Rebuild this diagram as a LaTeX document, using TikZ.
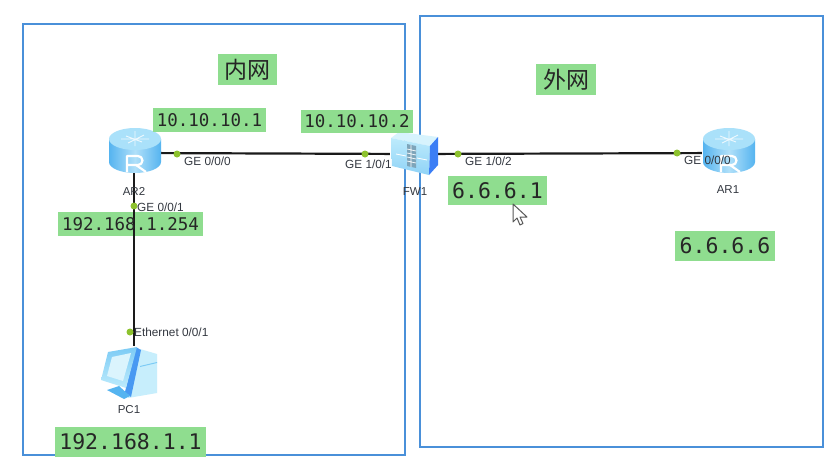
\documentclass[tikz,border=0pt]{standalone}
\usepackage{fontspec}
\setmainfont{Liberation Sans}
\newfontfamily\ipfont{DejaVu Sans Mono}
\newfontfamily\cjkfont{Noto Sans CJK SC}
\definecolor{ipgreen}{HTML}{8FDD8F}
\definecolor{zoneblue}{HTML}{4A90D9}
\definecolor{dotgreen}{HTML}{8DC22E}
\definecolor{linkblack}{HTML}{1A1A1A}
\definecolor{labelgrey}{HTML}{333840}
\definecolor{rlight}{HTML}{BDEBFC}
\definecolor{rmid}{HTML}{7CCBF5}
\definecolor{rdark}{HTML}{55B4F0}
\tikzset{
  zone/.style={draw=zoneblue,line width=1.1pt,fill=none},
  ipbox/.style={fill=ipgreen,inner sep=0pt,anchor=center,text=black!85},
  link/.style={draw=linkblack,line width=2.2pt},
  portdot/.style={circle,fill=dotgreen,inner sep=0pt,minimum size=7pt},
  portlabel/.style={font=\fontsize{11.8}{12}\selectfont,text=labelgrey,inner sep=0pt},
  devlabel/.style={font=\fontsize{11.5}{12}\selectfont,text=labelgrey,inner sep=0pt},
  devspot/.style={inner sep=0pt,draw=none},
}
\newcommand{\ipnode}[7]{% name, cx, cy, w, h, size, text
  \node[ipbox,minimum width=#4pt,minimum height=#5pt,font=\ipfont\fontsize{#6}{#6}\selectfont] (#1) at (#2,#3) {#7};}
\newcommand{\routericon}[2]{% cx, cy
  \begin{scope}[shift={(#1,#2)}]
    \shade[left color=rdark,right color=rdark,middle color=rmid!60!white] (-26,-11) -- (-26,12) arc[start angle=180,end angle=0,x radius=26,y radius=11] -- (26,-11) -- cycle;
    \fill[rlight!70!rmid] (0,-11) ellipse[x radius=26,y radius=11];
    \draw[white,line width=.9pt,opacity=.8] (-9,-14) -- (7,-8) (-7,-7) -- (9,-15) (0,-19) -- (0,-4) (-14,-11) -- (14,-11);
    \draw[white,line width=2.2pt,line join=round] (-8,22) -- (-8,6) -- (3,6) arc[start angle=-90,end angle=90,radius=4.5] -- (-8,15) (1,15) -- (11,22);
  \end{scope}}
\begin{document}
\begin{tikzpicture}[x=1pt,y=-1pt]
\useasboundingbox (0,0) rectangle (838,474);
\fill[white] (0,0) rectangle (838,474);
% zones
\draw[zone] (23,24) rectangle (405,455);
\draw[zone] (420,16) rectangle (823,447);
% device anchors
\node[devspot,minimum width=52pt,minimum height=40pt] (ar2) at (135,153) {};
\node[devspot,minimum width=46pt,minimum height=42pt] (fw1) at (413,154) {};
\node[devspot,minimum width=52pt,minimum height=40pt] (ar1) at (728,153) {};
\node[devspot,minimum width=56pt,minimum height=52pt] (pc1) at (134,372) {};
% address box under the vertical link
\node[ipbox,minimum width=145pt,minimum height=24pt] (a3) at (130.5,224) {};
% connectors
\draw[link] (ar2) -- (fw1);
\draw[link] (fw1) -- (ar1);
\draw[link] (ar2.south -| pc1.north) -- (pc1.north);
% router AR2
\routericon{135}{150}
% router AR1
\routericon{729}{150}
% firewall FW1
\fill[rlight!60!white] (391,138) -- (399,132) -- (438,137) -- (430,146) -- cycle;
\shade[top color=rlight,bottom color=rmid!85!white] (391,138) -- (430,146) -- (429,175) -- (392,166) -- cycle;
\fill[rdark!70!blue] (430,146) -- (438,137) -- (438,165) -- (429,175) -- cycle;
\fill[rmid!50!gray] (407,144) -- (416,146) -- (416,168) -- (407,166) -- cycle;
\draw[white,line width=.7pt] (407,149) -- (416,151) (407,153) -- (416,155) (407,157) -- (416,159) (407,161) -- (416,163) (411,145) -- (411,167);
\draw[white,line width=.8pt] (396,154) -- (406,156) (417,158) -- (427,160);
% PC1
\fill[rlight!85!white] (140,349) -- (157,354) -- (157,393) -- (128,398) -- cycle;
\fill[rmid] (140,366) -- (157,362) -- (157,363) -- (140,367) -- cycle;
\fill[rdark!85!blue] (136,347) -- (141,350) -- (131,397) -- (125,392) -- cycle;
\shade[top color=rmid,bottom color=rlight] (108,352) -- (137,347) -- (126,388) -- (101,380) -- cycle;
\fill[rlight!55!white] (112,357) -- (131,353) -- (123,381) -- (107,376) -- cycle;
\fill[rdark] (107,390) -- (119,386) -- (130,396) -- (124,399) -- cycle;
% port dots
\node[portdot] (d1) at (177,154) {};
\node[portdot] (d2) at (365,154) {};
\node[portdot] (d3) at (458,154) {};
\node[portdot] (d4) at (677,153) {};
\node[portdot] (d5) at (134,206) {};
\node[portdot] (d6) at (130,332) {};
% port labels
\node[portlabel,anchor=west] (l1) at (184,161) {GE 0/0/0};
\node[portlabel,anchor=west] (l2) at (345,164) {GE 1/0/1};
\node[portlabel,anchor=west] (l3) at (465,161) {GE 1/0/2};
\node[portlabel,anchor=west] (l4) at (684,160) {GE 0/0/0};
\node[portlabel,anchor=west] (l5) at (137,207) {GE 0/0/1};
\node[portlabel,anchor=west] (l6) at (134,332) {Ethernet 0/0/1};
% device labels
\node[devlabel] (t1) at (134,191) {AR2};
\node[devlabel] (t2) at (415,192) {FW1};
\node[devlabel] (t3) at (728,190) {AR1};
\node[devlabel] (t4) at (129,410) {PC1};
% address labels
\node[ipbox,minimum width=59pt,minimum height=31pt,font=\cjkfont\fontsize{23}{23}\selectfont] (n1) at (247.5,69.5) {内网};
\node[ipbox,minimum width=60pt,minimum height=31pt,font=\cjkfont\fontsize{23}{23}\selectfont] (n2) at (566,79.5) {外网};
\ipnode{a1}{209.5}{120}{113}{24}{17.5}{10.10.10.1}
\ipnode{a2}{357}{121.5}{112}{23}{17.5}{10.10.10.2}
\node[text=black!85,inner sep=0pt,font=\ipfont\fontsize{17.5}{17.5}\selectfont] (a3t) at (a3) {192.168.1.254};
\ipnode{a4}{497.5}{190.5}{99}{29}{21.5}{6.6.6.1}
\ipnode{a5}{725}{246}{100}{30}{21.5}{6.6.6.6}
\ipnode{a6}{130.5}{442}{151}{30}{21.5}{192.168.1.1}
% mouse pointer
\draw[fill=white,draw=gray!70!black,line width=1pt,line join=round] (513,204) -- (513,222) -- (517,218) -- (520,225) -- (523,223.5) -- (520,217) -- (527,217) -- cycle;
\end{tikzpicture}
\end{document}
